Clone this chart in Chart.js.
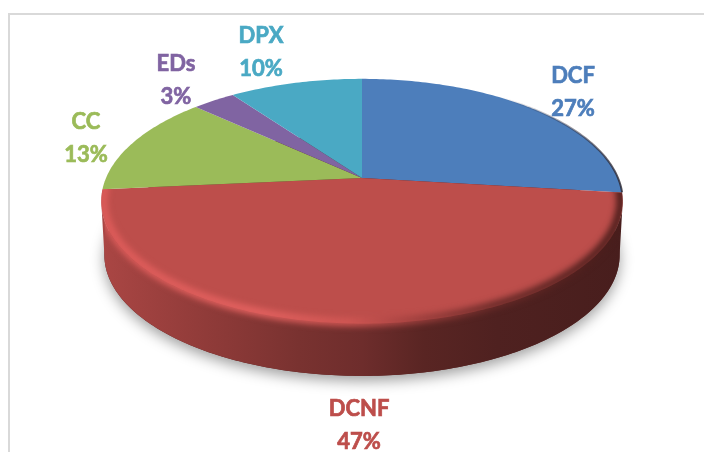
<!DOCTYPE html>
<html>
<head>
<meta charset="utf-8">
<style>
  html, body { margin: 0; padding: 0; background: #fff; overflow: hidden; }
  #wrap { position: relative; width: 704px; height: 452px; overflow: hidden; }
  #frame { position: absolute; left: 8px; top: 13px; width: 800px; height: 600px;
           border-left: 2px solid #d9d9d9; border-top: 2px solid #d9d9d9; }
  canvas { position: absolute; left: 0; top: 0; }
</style>
<script src="https://cdn.jsdelivr.net/npm/chart.js@4"></script>
</head>
<body>
<div id="wrap">
  <div id="frame"></div>
  <canvas id="pie" width="704" height="452"></canvas>
</div>
<script>
const categories = ['DCF', 'DCNF', 'CC', 'EDs', 'DPX'];
const shares = [26.9, 46.6, 13.4, 3.2, 9.9];
const sliceColors = ['#4d7ebb', '#bd4e4b', '#9bbb59', '#8064a2', '#4aa9c4'];

// label centres, same order as categories
const labelX = [573, 359, 86, 176, 261];
const labelY = [76, 409, 122, 64, 36];
const lineGap = 33;

// tilted disc: camera perspective on a unit circle
const view = { cx: 362, cy: 178, a: 256, b: 118, k: 0.19, depth: 54 };

function project(angle, radius, level) {
    const u = Math.cos(angle) * radius;
    const v = Math.sin(angle) * radius;
    const w = 1 - view.k * v;
    const s = 1 - 0.012 * level;
    return {
        x: view.cx + (view.a * u * s) / w,
        y: view.cy + (view.b * v * s) / w + view.depth * level
    };
}

function tracePath(ctx, from, to, radius, level, first) {
    const steps = Math.max(2, Math.ceil(Math.abs(to - from) * 60));
    for (let i = 0; i <= steps; i++) {
        const p = project(from + ((to - from) * i) / steps, radius, level);
        if (i === 0 && first) ctx.moveTo(p.x, p.y);
        else ctx.lineTo(p.x, p.y);
    }
}

// arcs keep the library's angles, only the outline goes through the projection
Chart.ArcElement.prototype.draw = function (ctx) {
    const o = this.options;
    ctx.beginPath();
    const c = project(0, 0, 0);
    ctx.moveTo(c.x, c.y);
    tracePath(ctx, this.startAngle, this.endAngle, 1, 0, false);
    ctx.closePath();
    ctx.fillStyle = o.backgroundColor;
    ctx.fill();
};

function shade(hex, f) {
    const n = parseInt(hex.slice(1), 16);
    const r = Math.round(((n >> 16) & 255) * f);
    const g = Math.round(((n >> 8) & 255) * f);
    const b = Math.round((n & 255) * f);
    return `rgb(${r},${g},${b})`;
}

const wallStops = [[0, 0.9], [0.2, 0.76], [0.38, 0.64], [0.5, 0.58], [0.62, 0.47], [0.76, 0.42], [1, 0.38]];
const rimStops = [[0, 'rgb(222,92,90)'], [0.3, 'rgb(228,98,96)'], [0.48, 'rgb(208,86,83)'],
                  [0.6, 'rgb(160,64,62)'], [0.75, 'rgb(105,42,40)'], [1, 'rgb(72,28,26)']];

const discPlugin = {
    id: 'disc',
    beforeDatasetsDraw(chart) {
        const ctx = chart.ctx;
        const arcs = chart.getDatasetMeta(0).data;
        const edge = Math.asin(view.k);

        // soft shadow under the base
        ctx.save();
        ctx.shadowColor = 'rgba(0,0,0,0.38)';
        ctx.shadowBlur = 14;
        ctx.shadowOffsetY = 5;
        ctx.fillStyle = '#5a2322';
        ctx.beginPath();
        tracePath(ctx, 0, Math.PI * 2, 1, 1, true);
        ctx.closePath();
        ctx.fill();
        ctx.restore();

        // side wall of whatever slices face the viewer
        arcs.forEach((arc, i) => {
            const from = Math.max(arc.startAngle, edge);
            const to = Math.min(arc.endAngle, Math.PI - edge);
            if (to <= from) return;
            const g = ctx.createLinearGradient(102, 0, 622, 0);
            wallStops.forEach(s => g.addColorStop(s[0], shade(sliceColors[i], s[1])));
            ctx.beginPath();
            tracePath(ctx, from, to, 1, 0, true);
            tracePath(ctx, to, from, 1, 1, false);
            ctx.closePath();
            ctx.fillStyle = g;
            ctx.fill();
        });
    },
    afterDatasetsDraw(chart) {
        const ctx = chart.ctx;
        const front = chart.getDatasetMeta(0).data[1];

        // rounded front edge, lit on the left and dark on the right
        const g = ctx.createLinearGradient(102, 0, 622, 0);
        rimStops.forEach(s => g.addColorStop(s[0], s[1]));
        ctx.save();
        // keep the blur inside the disc
        const c = project(0, 0, 0);
        ctx.beginPath();
        ctx.moveTo(c.x, c.y);
        tracePath(ctx, front.startAngle, front.endAngle, 1, 0, false);
        ctx.closePath();
        tracePath(ctx, front.startAngle, front.endAngle, 1, 0, true);
        tracePath(ctx, front.endAngle, front.startAngle, 1, 1, false);
        ctx.closePath();
        ctx.clip('nonzero');
        ctx.filter = 'blur(3px)';
        ctx.lineWidth = 8;
        ctx.strokeStyle = g;
        ctx.beginPath();
        tracePath(ctx, front.startAngle - 0.05, front.endAngle + 0.05, 0.992, 0, true);
        ctx.stroke();
        ctx.restore();

        // thin dark line on the right back edge
        ctx.save();
        ctx.filter = 'blur(0.7px)';
        ctx.lineWidth = 2;
        const d = ctx.createLinearGradient(500, 0, 622, 0);
        d.addColorStop(0, 'rgba(50,50,70,0)');
        d.addColorStop(1, 'rgba(40,35,45,0.8)');
        ctx.strokeStyle = d;
        ctx.beginPath();
        tracePath(ctx, -Math.PI / 3, front.startAngle, 1, 0, true);
        ctx.stroke();
        ctx.restore();

        // labels
        ctx.save();
        ctx.font = 'bold 22px Lato';
        ctx.textAlign = 'center';
        ctx.textBaseline = 'middle';
        ctx.lineWidth = 0.7;
        categories.forEach((name, i) => {
            ctx.fillStyle = sliceColors[i];
            ctx.strokeStyle = sliceColors[i];
            const pct = Math.round(shares[i]) + '%';
            ctx.fillText(name, labelX[i], labelY[i]);
            ctx.strokeText(name, labelX[i], labelY[i]);
            ctx.fillText(pct, labelX[i], labelY[i] + lineGap);
            ctx.strokeText(pct, labelX[i], labelY[i] + lineGap);
        });
        ctx.restore();
    }
};

new Chart(document.getElementById('pie'), {
    type: 'pie',
    data: {
        labels: categories,
        datasets: [{ data: shares, backgroundColor: sliceColors, borderWidth: 0 }]
    },
    options: {
        responsive: false,
        animation: false,
        plugins: { legend: { display: false }, tooltip: { enabled: false } }
    },
    plugins: [discPlugin]
});
</script>
</body>
</html>
